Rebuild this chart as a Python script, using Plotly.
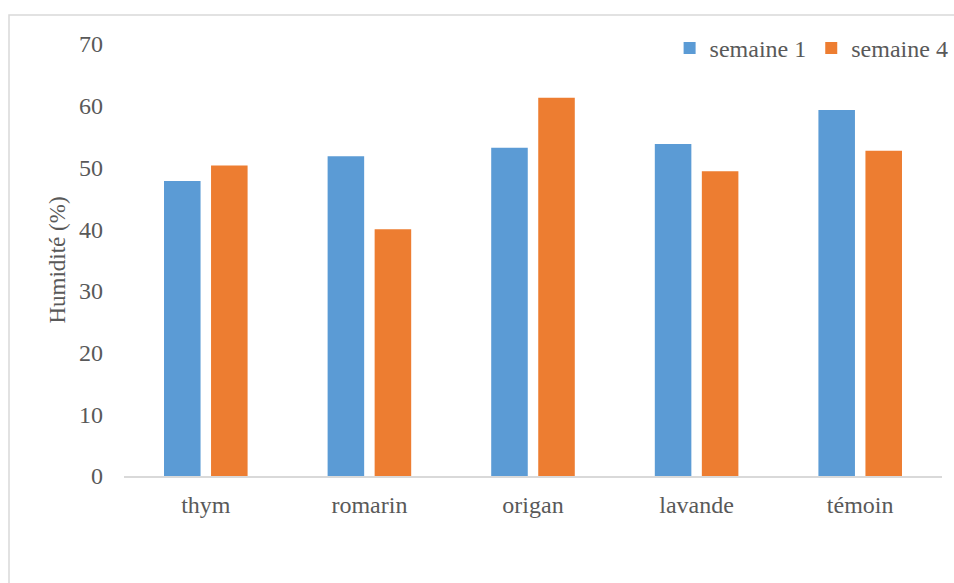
import plotly.graph_objects as go

# Humidity by treatment, week 1 vs week 4
categories = ["thym", "romarin", "origan", "lavande", "témoin"]
semaine_1 = [47.8, 51.8, 53.2, 53.8, 59.3]
semaine_4 = [50.3, 40.0, 61.3, 49.4, 52.7]
y_ticks = [0, 10, 20, 30, 40, 50, 60, 70]

FONT = "Liberation Serif"
TEXT = "#595959"
GRID = "#d9d9d9"

fig = go.Figure()
fig.add_trace(go.Bar(name="semaine 1", x=categories, y=semaine_1,
                     marker=dict(color="#5B9BD5", line=dict(width=0))))
fig.add_trace(go.Bar(name="semaine 4", x=categories, y=semaine_4,
                     marker=dict(color="#ED7D31", line=dict(width=0))))

fig.update_layout(
    width=954, height=583,
    margin=dict(l=124, r=12, t=44, b=107, autoexpand=False),
    paper_bgcolor="white", plot_bgcolor="white",
    font=dict(family=FONT, size=24, color=TEXT),
    barmode="group", bargap=0.425, bargroupgap=0.223,
    showlegend=True,
    legend=dict(orientation="h", x=0.667, xanchor="left", y=0.99, yanchor="middle",
                font=dict(family=FONT, size=24, color=TEXT),
                bgcolor="rgba(0,0,0,0)", itemwidth=30, traceorder="normal"),
    xaxis=dict(showgrid=False, showline=True, linecolor=GRID, linewidth=2,
               ticks="", ticklabelstandoff=6, zeroline=False,
               tickfont=dict(family=FONT, size=24, color=TEXT)),
    yaxis=dict(range=[0, 70], tickvals=y_ticks, showgrid=False, showline=False,
               zeroline=False, ticks="", ticklabelstandoff=20,
               tickfont=dict(family=FONT, size=24, color=TEXT),
               title=dict(text="Humidité (%)", font=dict(family=FONT, size=23, color=TEXT),
                          standoff=6)),
    shapes=[
        # chart-area frame (extends past the page edges on the right and bottom)
        dict(type="rect", xref="paper", yref="paper",
             x0=(9 - 124) / 818, x1=1.05, y0=-0.4, y1=(476 - 15) / 432,
             line=dict(color=GRID, width=1.5), fillcolor="rgba(0,0,0,0)", layer="below"),
    ],
)

fig.write_html("out.html")
